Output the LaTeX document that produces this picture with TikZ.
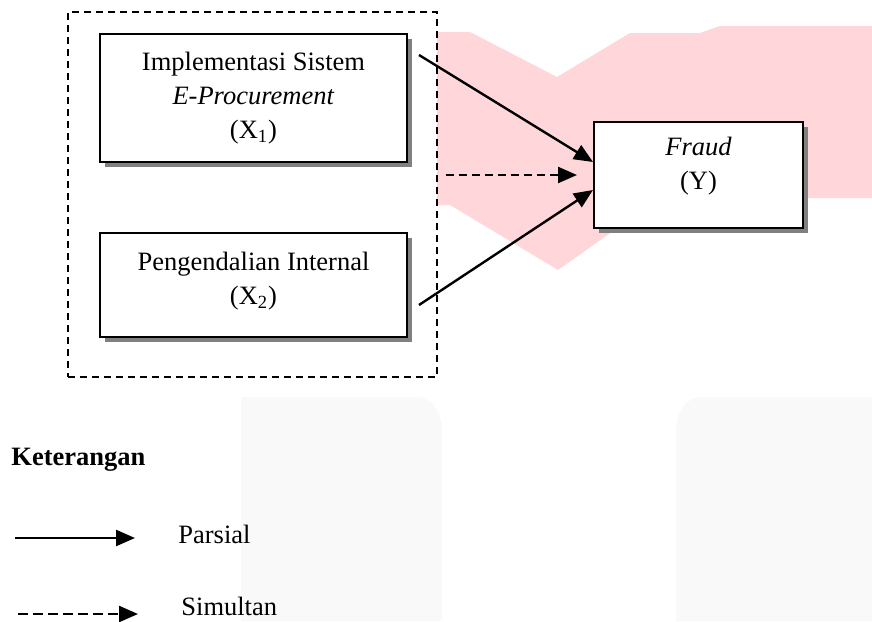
\documentclass[tikz,border=0pt]{standalone}
\usepackage{fontspec}
\setmainfont{Liberation Serif}
\usepackage{tikz}
\usetikzlibrary{
  arrows.meta,
  calc,
  positioning,
  shadows,
}
\definecolor{markpink}{RGB}{255, 214, 217}
\definecolor{markgray}{RGB}{249, 249, 249}
\tikzstyle{varbox} = [
  draw,
  line width=1pt,
  fill=white,
  align=center,
  inner sep=0pt,
  drop shadow={shadow xshift=2.5pt, shadow yshift=-2.5pt, fill=black!50, opacity=1},
  font=\fontsize{13.25}{17}\selectfont,
]
\tikzstyle{arrow} = [
  -{Triangle[length=9.5pt, width=8pt]},
  line width=1.2pt,
  black,
]
\tikzstyle{dasharrow} = [
  arrow,
  dash pattern=on 4pt off 2.5pt,
]
\tikzstyle{legendtext} = [
  anchor=base west,
  inner sep=0pt,
  font=\fontsize{13.25}{17}\selectfont,
]

\begin{document}
\begin{tikzpicture}[x=0.5pt, y=-0.5pt]

        \fill [white] (0,0) rectangle (872,621);
        \useasboundingbox (0,0) rectangle (872,621);

        % watermark
        \fill [markpink] (437,32) -- (470,32) -- (557,77) -- (630,33)
              -- (700,33) -- (720,26) -- (872,26) -- (872,198)
              -- (660,198) -- (558,270) -- (450,205) -- (437,205) -- cycle;

        \fill [markgray] (241,621) -- (241,397) -- (416,397)
              to [out=0, in=90] (442,430) -- (442,621) -- cycle;

        \fill [markgray] (872,621) -- (872,397) -- (702,397)
              to [out=180, in=90] (676,430) -- (676,621) -- cycle;

        % frame
        \node [draw, line width=0.9pt, dash pattern=on 3.5pt off 2.5pt,
               minimum width=184.5pt, minimum height=182.5pt, inner sep=0pt]
              (frame) at (252.5,194.5) {};

        \node [varbox, minimum width=153.5pt, minimum height=64pt]
              (x1) at (253.5,98)
              {Implementasi Sistem\\\textit{E-Procurement}\\(X\textsubscript{1})};

        \node [varbox, minimum width=153.5pt, minimum height=52pt, text depth=7pt]
              (x2) at (253.5,285)
              {Pengendalian Internal\\(X\textsubscript{2})};

        \node [varbox, minimum width=104.5pt, minimum height=53pt, text depth=12pt]
              (y) at (698.5,175)
              {\textit{Fraud}\\(Y)};

        \draw [arrow] ($(x1.north east)+(11,22)$) -- ([yshift=6.5pt]y.west);

        \draw [arrow] ($(x2.east)+(11,20)$) -- ([yshift=-7.5pt]y.west);

        \draw [dasharrow, shorten >=8pt] ([xshift=4pt]frame.east |- y.west) -- (y.west);

        % legend
        \node [legendtext, font=\fontsize{13.25}{17}\selectfont\bfseries]
              (ket) at (11,465) {Keterangan};

        \coordinate (pA) at (15,538);
        \coordinate (pB) at (135,538);
        \coordinate (sA) at (18,614);
        \coordinate (sB) at (138,614);

        \draw [arrow] (pA) -- (pB);
        \draw [dasharrow, dash pattern=on 5pt off 2.5pt] (sA) -- (sB);

        \node [legendtext] (parsial) at (178,543) {Parsial};
        \node [legendtext] (simultan) at (181,615) {Simultan};
      \end{tikzpicture}
\end{document}
